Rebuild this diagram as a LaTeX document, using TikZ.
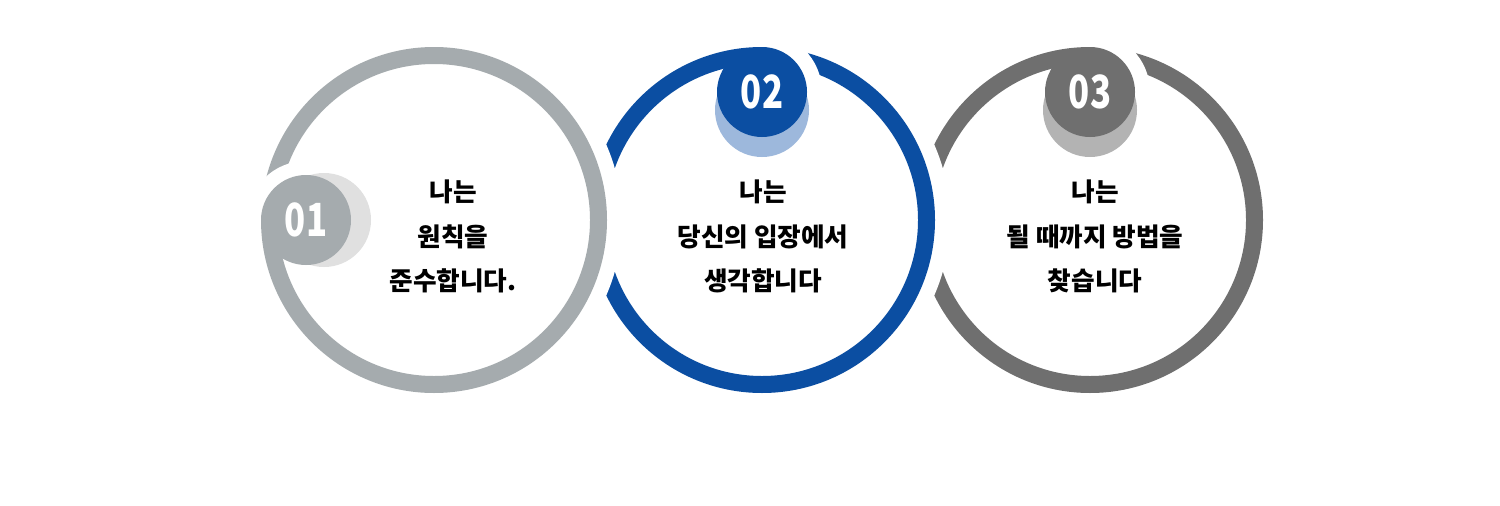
\documentclass[tikz,border=0pt]{standalone}
\usepackage{fontspec}
\setmainfont{Noto Sans CJK KR}
\newfontfamily\numfont[FakeStretch=0.76]{Noto Sans CJK KR}
\usepackage{tikz}
\definecolor{ringone}{HTML}{A5ABAE}
\definecolor{shadeone}{HTML}{E0E0E0}
\definecolor{ringtwo}{HTML}{0B4EA2}
\definecolor{shadetwo}{HTML}{9DB8DC}
\definecolor{ringthree}{HTML}{6F6F6F}
\definecolor{shadethree}{HTML}{B3B3B3}

\begin{document}
\begin{tikzpicture}[x=0.02cm,y=0.02cm,
  ring/.style={line width=0.34cm},
  num/.style={text=white,font=\numfont\bfseries\fontsize{26pt}{26pt}\selectfont},
  words/.style={align=center,font=\bfseries\fontsize{14.6pt}{25.5pt}\selectfont}]
\useasboundingbox (0,0) rectangle (1500,505);
\draw[ringthree,ring] (1090,285) circle (164.5);
\fill[white] (1090,413) -- ++(90:60) arc[start angle=90,end angle=-90,radius=60] -- cycle;
\fill[shadethree] (1090,395) circle (47);
\fill[ringthree] (1090,413) circle (45); % third circle
\fill[white] (762,285) circle (188);
\draw[ringtwo,ring] (762,285) circle (164.5);
\fill[white] (762,413) -- ++(90:60) arc[start angle=90,end angle=-90,radius=60] -- cycle;
\fill[shadetwo] (762,395) circle (47);
\fill[ringtwo] (762,413) circle (45); % second circle
\fill[white] (434,285) circle (188);
\draw[ringone,ring] (434,285) circle (164.5);
\fill[white] (306,285) -- ++(0:59) arc[start angle=0,end angle=180,radius=59] -- cycle;
\fill[shadeone] (324,285) circle (47);
\fill[ringone] (306,285) circle (45); % first circle
\node[num] (numone) at (306,285) {01};
\node[num] (numtwo) at (762,413) {02};
\node[num] (numthree) at (1090,413) {03}; % badges
\node[words] (textone) at (453,268.5) {나는\\원칙을\\준수합니다.};
\node[words] (texttwo) at (763,268.5) {나는\\당신의 입장에서\\생각합니다};
\node[words] (textthree) at (1095,268.5) {나는\\될 때까지 방법을\\찾습니다}; % texts
\end{tikzpicture}
\end{document}
